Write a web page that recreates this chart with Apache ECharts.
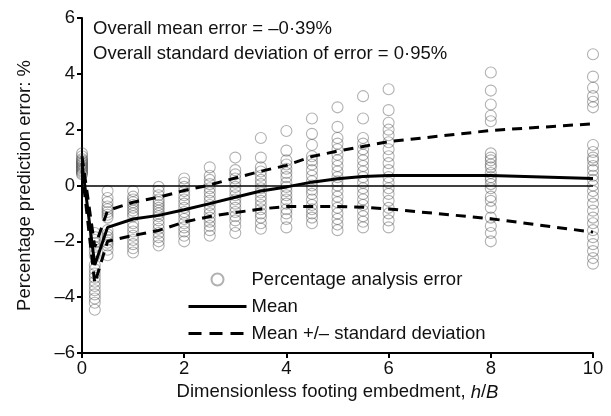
<!DOCTYPE html>
<html>
<head>
<meta charset="utf-8">
<script src="https://cdn.jsdelivr.net/npm/echarts@6/dist/echarts.min.js"></script>
<style>
  html, body { margin: 0; padding: 0; background: #fff; }
  #chart { width: 611px; height: 416px; }
</style>
</head>
<body>
<div id="chart"></div>
<script>
// Embedment ratios h/B where results were computed
const embedments = [0, 0.25, 0.5, 1, 1.5, 2, 2.5, 3, 3.5, 4, 4.5, 5, 5.5, 6, 8, 10];

// Individual percentage analysis errors, one list per embedment
const errorsAt0 = [1.15, 1.05, 0.95, 0.9, 0.85, 0.8, 0.75, 0.7, 0.65, 0.6, 0.55, 0.5, 0.45, 0.4];
const errorsAt0_25 = [-1.7, -1.85, -1.95, -2.05, -2.2, -2.35, -2.5, -2.85, -3.0, -3.15, -3.3, -3.45, -3.6, -3.75, -3.9, -4.05, -4.2, -4.45];
const errorsAt0_5 = [-0.2, -0.45, -0.6, -0.75, -0.85, -0.95, -1.05, -1.15, -1.6, -1.75, -1.85, -1.95, -2.05, -2.15, -2.3, -2.5];
const errorsAt1 = [-0.2, -0.4, -0.5, -0.6, -0.7, -0.8, -0.9, -1.0, -1.1, -1.35, -1.5, -1.65, -1.8, -1.95, -2.1, -2.25, -2.4];
const errorsAt1_5 = [-0.05, -0.2, -0.35, -0.5, -0.6, -0.7, -0.8, -0.9, -1.0, -1.1, -1.25, -1.4, -1.55, -1.7, -1.85, -2.0, -2.15];
const errorsAt2 = [0.25, 0.1, -0.05, -0.2, -0.35, -0.5, -0.65, -0.8, -0.95, -1.05, -1.2, -1.35, -1.5, -1.65, -1.8, -2.0];
const errorsAt2_5 = [0.65, 0.35, 0.2, 0.05, -0.1, -0.25, -0.4, -0.55, -0.7, -0.85, -1.0, -1.15, -1.3, -1.45, -1.6, -1.8];
const errorsAt3 = [1.0, 0.55, 0.4, 0.25, 0.1, -0.05, -0.2, -0.35, -0.5, -0.65, -0.8, -0.95, -1.1, -1.25, -1.45, -1.7];
const errorsAt3_5 = [1.7, 1.0, 0.65, 0.5, 0.35, 0.2, 0.05, -0.1, -0.25, -0.4, -0.55, -0.7, -0.85, -1.0, -1.15, -1.35, -1.55];
const errorsAt4 = [1.95, 1.25, 0.9, 0.75, 0.6, 0.45, 0.3, 0.1, -0.05, -0.2, -0.35, -0.5, -0.65, -0.85, -1.0, -1.2, -1.5];
const errorsAt4_5 = [2.4, 1.85, 1.45, 1.05, 0.9, 0.75, 0.55, 0.35, 0.15, 0.0, -0.15, -0.3, -0.5, -0.7, -0.85, -1.0, -1.15, -1.35];
const errorsAt5 = [2.8, 2.1, 1.7, 1.5, 1.3, 1.1, 0.9, 0.7, 0.5, 0.3, 0.15, 0.0, -0.2, -0.4, -0.6, -0.8, -1.0, -1.2, -1.4, -1.6];
const errorsAt5_5 = [3.2, 2.4, 1.7, 1.5, 1.3, 1.1, 0.9, 0.7, 0.5, 0.3, 0.1, -0.1, -0.3, -0.5, -0.7, -0.9, -1.1, -1.3, -1.5];
const errorsAt6 = [3.45, 2.7, 2.25, 2.0, 1.8, 1.55, 1.3, 1.05, 0.8, 0.55, 0.3, 0.1, -0.1, -0.3, -0.55, -0.8, -1.0, -1.25, -1.5];
const errorsAt8 = [4.05, 3.4, 2.9, 2.5, 2.3, 1.15, 1.0, 0.9, 0.75, 0.65, 0.45, 0.3, 0.2, 0.05, -0.1, -0.4, -0.55, -0.8, -1.15, -1.45, -1.7, -2.0];
const errorsAt10 = [4.7, 3.9, 3.5, 3.2, 3.0, 2.8, 1.45, 1.2, 1.0, 0.9, 0.7, 0.55, 0.35, 0.2, 0.0, -0.2, -0.4, -0.65, -0.9, -1.15, -1.35, -1.6, -1.85, -2.1, -2.35, -2.6, -2.8];

const errorColumns = [errorsAt0, errorsAt0_25, errorsAt0_5, errorsAt1, errorsAt1_5, errorsAt2, errorsAt2_5,
  errorsAt3, errorsAt3_5, errorsAt4, errorsAt4_5, errorsAt5, errorsAt5_5, errorsAt6, errorsAt8, errorsAt10];

// Mean error and mean ± one standard deviation at each embedment
const meanError = [0.8, -2.85, -1.5, -1.2, -1.07, -0.87, -0.65, -0.42, -0.2, -0.05, 0.12, 0.24, 0.32, 0.36, 0.36, 0.25];
const meanPlusSd = [1.05, -2.2, -0.9, -0.6, -0.42, -0.18, 0.02, 0.27, 0.51, 0.72, 1.04, 1.23, 1.4, 1.57, 1.97, 2.21];
const meanMinusSd = [0.55, -3.5, -2.0, -1.79, -1.61, -1.31, -1.11, -0.97, -0.84, -0.75, -0.75, -0.75, -0.78, -0.84, -1.19, -1.67];

// Axis ticks
const xTicks = [0, 2, 4, 6, 8, 10];
const yTicks = [-6, -4, -2, 0, 2, 4, 6];

const scatterData = [];
errorColumns.forEach((col, i) => col.forEach(v => scatterData.push([embedments[i], v])));
const pairs = arr => embedments.map((x, i) => [x, arr[i]]);

const FONT = 'Liberation Sans, Arial, sans-serif';
const FS = 18.5;
const minusDash = v => String(v).replace('-', '\u2013');

const chart = echarts.init(document.getElementById('chart'), null, { renderer: 'canvas' });
chart.setOption({
  animation: false,
  backgroundColor: '#ffffff',
  textStyle: { fontFamily: FONT },
  grid: { left: 82, right: 18, top: 18, bottom: 63, containLabel: false },
  xAxis: {
    type: 'value',
    min: xTicks[0], max: xTicks[xTicks.length - 1], interval: 2,
    name: '{n|Dimensionless footing embedment, }{i|h}{n|/}{i|B}',
    nameLocation: 'middle',
    nameGap: 23,
    nameTextStyle: {
      rich: {
        n: { fontSize: FS, color: '#111', fontFamily: FONT },
        i: { fontSize: FS, color: '#111', fontFamily: FONT, fontStyle: 'italic' }
      }
    },
    axisLine: { onZero: false, lineStyle: { color: '#000', width: 2 } },
    axisTick: { show: true, inside: false, length: 5, lineStyle: { color: '#000', width: 2 } },
    axisLabel: { fontSize: FS, color: '#111', margin: 6, fontFamily: FONT },
    splitLine: { show: false }
  },
  yAxis: {
    type: 'value',
    min: yTicks[0], max: yTicks[yTicks.length - 1], interval: 2,
    name: 'Percentage prediction error: %',
    nameLocation: 'middle',
    nameGap: 48,
    nameTextStyle: { fontSize: FS, color: '#111', fontFamily: FONT },
    axisLine: { onZero: false, lineStyle: { color: '#000', width: 2 } },
    axisTick: { show: true, inside: false, length: 5, lineStyle: { color: '#000', width: 2 } },
    axisLabel: { fontSize: FS, color: '#111', margin: 7, fontFamily: FONT, formatter: minusDash },
    splitLine: { show: false }
  },
  legend: {
    orient: 'vertical',
    left: 187,
    top: 270,
    padding: 0,
    itemWidth: 58,
    itemHeight: 12,
    itemGap: 8,
    textStyle: { fontSize: FS, color: '#111', fontFamily: FONT },
    data: [
      { name: 'Percentage analysis error' },
      { name: 'Mean', itemStyle: { opacity: 0 }, lineStyle: { width: 3 } },
      { name: 'Mean +/\u2013 standard deviation', itemStyle: { opacity: 0 }, lineStyle: { width: 3, type: [13, 8] } }
    ]
  },
  graphic: [
    { type: 'text', left: 93, top: 19, style: { text: 'Overall mean error = \u20130\u00b739%', fontSize: FS, fill: '#111', fontFamily: FONT } },
    { type: 'text', left: 93, top: 44, style: { text: 'Overall standard deviation of error = 0\u00b795%', fontSize: FS, fill: '#111', fontFamily: FONT } }
  ],
  series: [
    {
      name: 'Percentage analysis error',
      type: 'scatter',
      symbol: 'circle',
      symbolSize: 11,
      itemStyle: { color: 'rgba(0,0,0,0)', borderColor: 'rgba(60,60,60,0.5)', borderWidth: 1.1 },
      data: scatterData,
      z: 2,
      markLine: {
        silent: true,
        symbol: 'none',
        label: { show: false },
        lineStyle: { color: '#000', width: 1.5, type: 'solid' },
        data: [{ yAxis: 0 }]
      }
    },
    {
      name: 'Mean',
      type: 'line',
      data: pairs(meanError),
      showSymbol: false,
      symbol: 'none',
      lineStyle: { color: '#000', width: 3 },
      itemStyle: { color: '#000' },
      z: 4
    },
    {
      name: 'Mean +/\u2013 standard deviation',
      type: 'line',
      data: pairs(meanPlusSd),
      showSymbol: false,
      symbol: 'none',
      lineStyle: { color: '#000', width: 3, type: [10, 7] },
      itemStyle: { color: '#000' },
      z: 4
    },
    {
      name: 'Mean +/\u2013 standard deviation',
      type: 'line',
      data: pairs(meanMinusSd),
      showSymbol: false,
      symbol: 'none',
      lineStyle: { color: '#000', width: 3, type: [10, 7] },
      itemStyle: { color: '#000' },
      z: 4
    }
  ]
});
</script>
</body>
</html>
